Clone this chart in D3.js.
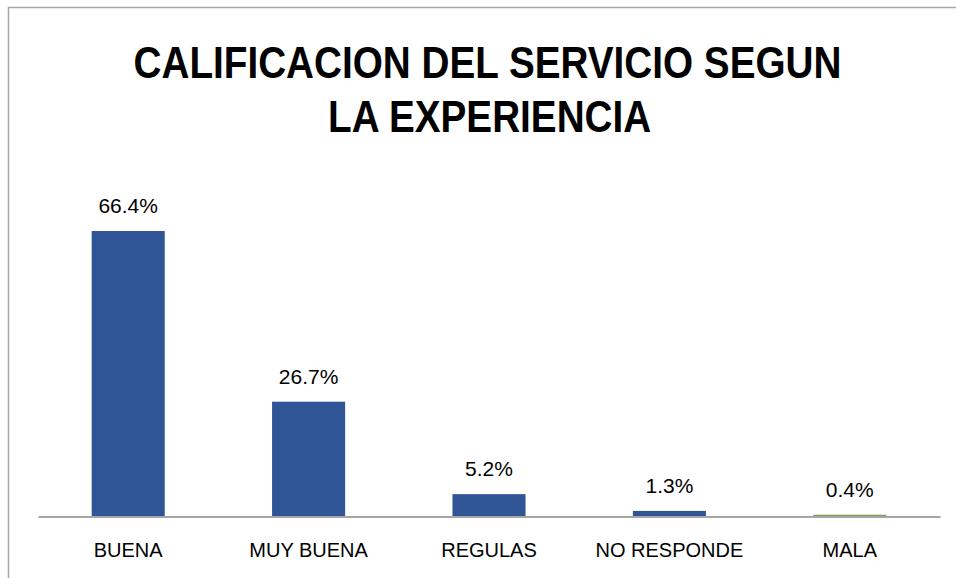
<!DOCTYPE html>
<html>
<head>
<meta charset="utf-8">
<script src="https://cdn.jsdelivr.net/npm/d3@7"></script>
<style>
  body { margin: 0; background: #fff; }
  text { font-family: 'Liberation Sans', Arial, sans-serif; }
</style>
</head>
<body>
<div id="chart-area"></div>
<script>
// data
let categories = ['BUENA', 'MUY BUENA', 'REGULAS', 'NO RESPONDE', 'MALA'];
let values = [66.4, 26.7, 5.2, 1.3, 0.4];
let barColors = ['#2F5597', '#2F5597', '#2F5597', '#2F5597', '#70A050'];
let titleLines = ['CALIFICACION DEL SERVICIO SEGUN', 'LA EXPERIENCIA'];

let width = 956, height = 578;

let svg = d3.select('#chart-area').append('svg')
	.attr('width', width)
	.attr('height', height);

// outer frame
svg.append('rect')
	.attr('x', 8.5).attr('y', 7.5)
	.attr('width', 960).attr('height', 600)
	.attr('fill', 'none')
	.attr('stroke', '#a6a6a6')
	.attr('stroke-width', 1.5);

// title, two lines
let title = svg.append('text')
	.attr('text-anchor', 'middle')
	.attr('font-size', '45px')
	.attr('font-weight', 'bold');
title.append('tspan')
	.attr('x', 487.5).attr('y', 78)
	.text(titleLines[0]);
title.append('tspan')
	.attr('x', 490).attr('y', 132)
	.text(titleLines[1]);

// squeeze the title to the reference width (Calibri is narrower)
title.attr('transform', 'translate(487.5,0) scale(0.86,1) translate(-487.5,0)');

// scales
let plotLeft = 38, plotRight = 940, baseY = 516.5;

let x = d3.scaleBand()
	.domain(categories)
	.range([plotLeft, plotRight])
	.paddingInner(0.595)
	.paddingOuter(0.2975);

let y = d3.scaleLinear()
	.domain([0, 66.4])
	.range([baseY, 231]);

let data = categories.map((c, i) => ({ cat: c, value: values[i], color: barColors[i] }));

// bars
svg.selectAll('rect.bar')
	.data(data)
	.enter()
	.append('rect')
		.attr('class', 'bar')
		.attr('x', d => x(d.cat))
		.attr('y', d => y(d.value))
		.attr('width', x.bandwidth())
		.attr('height', d => Math.max(baseY - y(d.value), 1.5))
		.attr('fill', d => d.color);

// x axis
let xAxisCall = d3.axisBottom(x).tickSize(0).tickPadding(26);
let xAxis = svg.append('g')
	.attr('transform', 'translate(0, ' + baseY + ')')
	.call(xAxisCall);
xAxis.select('.domain').attr('stroke', '#a6a6a6').attr('stroke-width', 2);
xAxis.selectAll('text')
	.attr('font-size', '20px')
	.attr('fill', '#000')
	.attr('font-family', "'Liberation Sans', Arial, sans-serif");

// value labels
svg.selectAll('text.value')
	.data(data)
	.enter()
	.append('text')
		.attr('class', 'value')
		.attr('x', d => x(d.cat) + x.bandwidth() / 2)
		.attr('y', d => y(d.value) - 18)
		.attr('text-anchor', 'middle')
		.attr('font-size', '21px')
		.text(d => d.value.toFixed(1) + '%');
</script>
</body>
</html>
